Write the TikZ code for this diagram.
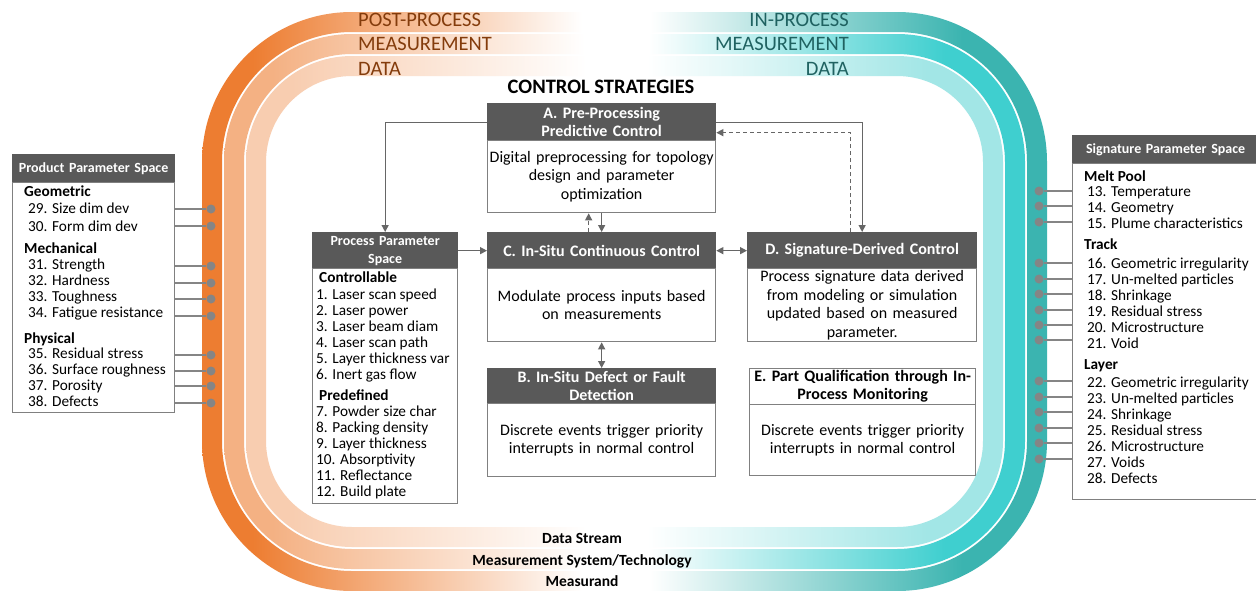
\documentclass[tikz,border=0pt]{standalone}
\usepackage{fontspec}
\setmainfont{Carlito}
\usetikzlibrary{arrows.meta}

\definecolor{hdrgray}{HTML}{595959}
\definecolor{boxgray}{HTML}{808080}
\definecolor{arrgray}{HTML}{666666}
\definecolor{dotgray}{HTML}{858585}
\definecolor{orA}{HTML}{ED7D31}
\definecolor{orB}{HTML}{F4B183}
\definecolor{orC}{HTML}{F8CDB0}
\definecolor{tlA}{HTML}{3BB4B0}
\definecolor{tlB}{HTML}{3FCFCF}
\definecolor{tlC}{HTML}{A2E6E6}
\definecolor{orTxt}{HTML}{843C0C}
\definecolor{tlTxt}{HTML}{1F6261}

\pgfdeclarehorizontalshading{bandA}{100bp}{color(0bp)=(orA); color(28bp)=(orA); color(47.5bp)=(white); color(51.5bp)=(white); color(70bp)=(tlA); color(100bp)=(tlA)}
\pgfdeclarehorizontalshading{bandB}{100bp}{color(0bp)=(orB); color(28bp)=(orB); color(47.5bp)=(white); color(51.5bp)=(white); color(70bp)=(tlB); color(100bp)=(tlB)}
\pgfdeclarehorizontalshading{bandC}{100bp}{color(0bp)=(orC); color(28bp)=(orC); color(47.5bp)=(white); color(51.5bp)=(white); color(70bp)=(tlC); color(100bp)=(tlC)}

\begin{document}
\begin{tikzpicture}[x=1pt,y=-1pt,
  >={Triangle[length=7pt,width=7pt]},
  hdr/.style={anchor=north west, fill=hdrgray, draw=hdrgray, line width=1.3pt, text=white, align=center, inner sep=0pt, font=\bfseries\fontsize{16}{18}\selectfont},
  sidehdr/.style={hdr, font=\bfseries\fontsize{14}{18}\selectfont},
  body/.style={anchor=north west, draw=boxgray, line width=1.3pt, fill=white, align=center, inner sep=0pt, font=\fontsize{16}{18.5}\selectfont},
  lst/.style={anchor=north west, align=left, inner sep=0pt, font=\fontsize{15.3}{16}\selectfont},
  bandtxt/.style={inner sep=0pt, font=\fontsize{20.5}{24}\selectfont},
  bottxt/.style={anchor=base, inner sep=0pt, font=\bfseries\fontsize{15.5}{18}\selectfont},
  conn/.style={draw=arrgray, line width=1.3pt, ->},
  link/.style={draw=dotgray, line width=1.5pt},
  dot/.style={circle, fill=dotgray, inner sep=0pt, minimum size=9pt}]
\fill[white] (0,0) rectangle (1256,590);
\useasboundingbox (0,0) rectangle (1256,590);

\shade[shading=bandA, even odd rule] (202,12) [rounded corners=150] rectangle (1047,591) (222,32) [rounded corners=130] rectangle (1027,571);
\shade[shading=bandB, even odd rule] (224,34) [rounded corners=128] rectangle (1025,569) (244,54) [rounded corners=108] rectangle (1005,549);
\shade[shading=bandC, even odd rule] (246,56) [rounded corners=106] rectangle (1003,547) (266,76) [rounded corners=86] rectangle (983,527);

\node[bandtxt, anchor=west, text=orTxt] (post1) at (358,20) {POST-PROCESS};
\node[bandtxt, anchor=west, text=orTxt] (post2) at (358,44) {MEASUREMENT};
\node[bandtxt, anchor=west, text=orTxt] (post3) at (358,69) {DATA};
\node[bandtxt, anchor=east, text=tlTxt] (in1) at (849,20) {IN-PROCESS};
\node[bandtxt, anchor=east, text=tlTxt] (in2) at (849,44) {MEASUREMENT};
\node[bandtxt, anchor=east, text=tlTxt] (in3) at (849,69) {DATA};
\node[bottxt] (stream) at (582,543) {Data Stream};
\node[bottxt] (system) at (582,565) {Measurement System/Technology};
\node[bottxt] (measurand) at (582,586) {Measurand};

\node[inner sep=0pt, font=\bfseries\fontsize{20.5}{24}\selectfont] (ctrl) at (601,87) {CONTROL STRATEGIES};

\node[hdr, minimum width=228, minimum height=37, text width=224] (Ahdr) at (487,103) {A. Pre-Processing\\Predictive Control};
\node[body, minimum width=228, minimum height=72, text width=224] (Abody) at (487,140) {Digital preprocessing for topology\\design and parameter\\optimization};

\node[sidehdr, minimum width=145, minimum height=36, text width=141] (Phdr) at (312,232) {Process Parameter\\Space};
\node[body, minimum width=145, minimum height=235] (Pbody) at (312,268) {};
\node[lst] (Plist) at (316,272) {\hspace*{3pt}\textbf{Controllable}\\[1pt]
1. Laser scan speed\\
2. Laser power\\
3. Laser beam diam\\
4. Laser scan path\\
5. Layer thickness var\\
6. Inert gas flow\\[5pt]
\hspace*{3pt}\textbf{Predefined}\\
7. Powder size char\\
8. Packing density\\
9. Layer thickness\\
10. Absorptivity\\
11. Reflectance\\
12. Build plate};

\node[hdr, minimum width=228, minimum height=36, text width=224] (Chdr) at (487,232) {C. In-Situ Continuous Control};
\node[body, minimum width=228, minimum height=73, text width=224] (Cbody) at (487,268) {Modulate process inputs based\\on measurements};

\node[hdr, minimum width=229, minimum height=36, text width=225] (Dhdr) at (747,232) {D. Signature-Derived Control};
\node[body, minimum width=229, minimum height=73, text width=225] (Dbody) at (747,268) {Process signature data derived\\from modeling or simulation\\updated based on measured\\parameter.};

\node[hdr, minimum width=228, minimum height=35, text width=224] (Bhdr) at (487,368) {B. In-Situ Defect or Fault\\Detection};
\node[body, minimum width=228, minimum height=73, text width=224] (Bbody) at (487,403) {Discrete events trigger priority\\interrupts in normal control};

\node[hdr, fill=white, draw=boxgray, text=black, minimum width=226, minimum height=36, text width=224] (Ehdr) at (749,368) {E. Part Qualification through In-\\Process Monitoring};
\node[body, minimum width=226, minimum height=71, text width=222] (Ebody) at (749,404) {Discrete events trigger priority\\interrupts in normal control};

\node[sidehdr, minimum width=162, minimum height=28, text width=160] (prodhdr) at (12,154) {Product Parameter Space};
\node[body, minimum width=162, minimum height=230] (prodbody) at (12,182) {};
\node[lst] (prodlist) at (24,186) {\textbf{Geometric}\\[1pt]
\hspace*{4pt}29. Size dim dev\\[2pt]
\hspace*{4pt}30. Form dim dev\\[6pt]
\textbf{Mechanical}\\
\hspace*{4pt}31. Strength\\
\hspace*{4pt}32. Hardness\\
\hspace*{4pt}33. Toughness\\
\hspace*{4pt}34. Fatigue resistance\\[10pt]
\textbf{Physical}\\[-1pt]
\hspace*{4pt}35. Residual stress\\
\hspace*{4pt}36. Surface roughness\\
\hspace*{4pt}37. Porosity\\
\hspace*{4pt}38. Defects};

\node[sidehdr, minimum width=186, minimum height=28, text width=180] (sighdr) at (1072,135) {Signature Parameter Space};
\node[body, minimum width=186, minimum height=336] (sigbody) at (1072,163) {};
\node[lst] (siglist) at (1084,171) {\textbf{Melt Pool}\\[-1pt]
\hspace*{3pt}13. Temperature\\
\hspace*{3pt}14. Geometry\\
\hspace*{3pt}15. Plume characteristics\\[5pt]
\textbf{Track}\\[3pt]
\hspace*{3pt}16. Geometric irregularity\\
\hspace*{3pt}17. Un-melted particles\\
\hspace*{3pt}18. Shrinkage\\
\hspace*{3pt}19. Residual stress\\
\hspace*{3pt}20. Microstructure\\
\hspace*{3pt}21. Void\\[5pt]
\textbf{Layer}\\[2pt]
\hspace*{3pt}22. Geometric irregularity\\
\hspace*{3pt}23. Un-melted particles\\
\hspace*{3pt}24. Shrinkage\\
\hspace*{3pt}25. Residual stress\\
\hspace*{3pt}26. Microstructure\\
\hspace*{3pt}27. Voids\\
\hspace*{3pt}28. Defects};

\foreach \y in {209,226,266,283,299,316,355,371,386,403} {
  \node[dot] (pd\y) at (211,\y) {};
  \draw[link] (pd\y) -- (pd\y -| prodbody.east);
}
\foreach \y in {191,206,222,263,279,294,310,325,340,381,397,412,428,443,459} {
  \node[dot] (sd\y) at (1039,\y) {};
  \draw[link] (sd\y) -- (sd\y -| sigbody.west);
}

\draw[conn] (Ahdr.west) -| (Phdr.north);
\draw[conn] (Phdr.east) -- (Chdr.west);
\draw[conn] (Ahdr.east) -| (Dhdr.north);
\draw[conn, dash pattern=on 4pt off 3pt] ([xshift=-12pt]Dhdr.north) |- ([yshift=-10.5pt]Ahdr.east);
\draw[conn] (Abody.south) -- (Chdr.north);
\draw[conn, dash pattern=on 4pt off 3pt] ([xshift=-13pt]Chdr.north) -- ([xshift=-13pt]Abody.south);
\draw[conn, <->] (Chdr.east) -- (Dhdr.west);
\draw[conn, <->] (Cbody.south) -- (Bhdr.north);
\end{tikzpicture}
\end{document}
